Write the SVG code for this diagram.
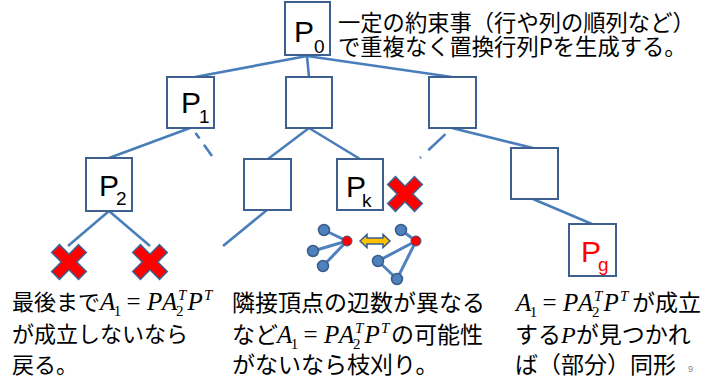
<svg xmlns="http://www.w3.org/2000/svg" width="707" height="379" viewBox="0 0 707 379">
<style>
.box{fill:#fff;stroke:#3d6091;stroke-width:2}
.edge{stroke:#4a7ebb;stroke-width:2.6;fill:none}
.lbl{font-family:"Liberation Sans",Arial,sans-serif;font-size:30px;fill:#000}
.sub{font-family:"Liberation Sans",Arial,sans-serif;font-size:19px;fill:#000}
.jp{font-family:"Noto Sans CJK JP",sans-serif;font-size:22px;fill:#000}
.j3{font-size:23px}
.m{font-family:"Liberation Serif","Times New Roman",serif;font-style:italic;font-size:25px}
.ms{font-family:"Liberation Serif","Times New Roman",serif;font-size:15px;font-style:normal}
.mi{font-family:"Liberation Serif","Times New Roman",serif;font-size:15px;font-style:italic}
.mu{font-style:normal}
.cross{fill:#ff0000;stroke:#3d6091;stroke-width:1.5;stroke-linejoin:miter}
.gn{fill:#4f81bd;stroke:#385d8a;stroke-width:1.5}
.gr{fill:#ff0000;stroke:#385d8a;stroke-width:1}
.ge{stroke:#4f81bd;stroke-width:3;fill:none}
</style>
<defs>
<polygon id="x" class="cross" points="-5.5,-19 5.5,-19 5.5,-5.5 19,-5.5 19,5.5 5.5,5.5 5.5,19 -5.5,19 -5.5,5.5 -19,5.5 -19,-5.5 -5.5,-5.5" transform="rotate(45)"/>
</defs>
<g id="connectors">
<line class="edge" x1="307" y1="56" x2="195" y2="77"/>
<line class="edge" x1="307" y1="56" x2="309" y2="77"/>
<line class="edge" x1="307" y1="56" x2="452" y2="77"/>
<line class="edge" x1="190" y1="128" x2="109" y2="158"/>
<line class="edge" x1="192" y1="128" x2="212" y2="156" stroke-dasharray="0 6 7 7.5 14"/>
<line class="edge" x1="309" y1="128" x2="268" y2="159"/>
<line class="edge" x1="309" y1="128" x2="360" y2="159"/>
<line class="edge" x1="452" y1="128" x2="420" y2="158" stroke-dasharray="0 9 23.5 10 2"/>
<line class="edge" x1="452" y1="128" x2="533" y2="148"/>
<line class="edge" x1="109" y1="211" x2="68" y2="246"/>
<line class="edge" x1="109" y1="211" x2="150" y2="246"/>
<line class="edge" x1="267" y1="210" x2="223" y2="246"/>
<line class="edge" x1="533" y1="199" x2="592" y2="224"/>
</g>
<g id="P0"><rect class="box" x="285" y="2" width="45" height="53"/><text class="lbl" x="294" y="42">P</text><text class="sub" x="314" y="53">0</text></g>
<g id="P1"><rect class="box" x="167" y="77" width="47" height="51"/><text class="lbl" x="181" y="113">P</text><text class="sub" x="199" y="123">1</text></g>
<g id="n2"><rect class="box" x="286" y="77" width="46" height="51"/></g>
<g id="n3"><rect class="box" x="429" y="77" width="47" height="51"/></g>
<g id="P2"><rect class="box" x="86" y="158" width="46" height="53"/><text class="lbl" x="99" y="196">P</text><text class="sub" x="116" y="205">2</text></g>
<g id="n5"><rect class="box" x="244" y="159" width="47" height="51"/></g>
<g id="Pk"><rect class="box" x="337" y="159" width="46" height="51"/><text class="lbl" x="346" y="197">P</text><text class="sub" x="362" y="207">k</text></g>
<g id="n7"><rect class="box" x="511" y="148" width="47" height="51"/></g>
<g id="Pg"><rect class="box" x="569" y="224" width="47" height="52"/><text class="lbl" x="581" y="262" style="fill:#ff0000">P</text><text class="sub" x="598" y="271" style="fill:#ff0000">g</text></g>
<g id="crosses">
<use href="#x" x="69" y="262"/>
<use href="#x" x="150" y="262"/>
<use href="#x" x="405" y="194"/>
</g>
<g id="graph-icon">
<line class="ge" x1="324" y1="230" x2="347" y2="241"/>
<line class="ge" x1="313" y1="251" x2="347" y2="241"/>
<line class="ge" x1="323" y1="266" x2="347" y2="241"/>
<circle class="gn" cx="324" cy="230" r="5.5"/>
<circle class="gn" cx="313" cy="251" r="5.5"/>
<circle class="gn" cx="323" cy="266" r="5.5"/>
<circle class="gr" cx="347" cy="241" r="5"/>
<polygon points="360,241 367,234.5 367,238 383,238 383,234.5 390,241 383,247.5 383,244 367,244 367,247.5" fill="#ffc000" stroke="#385d8a" stroke-width="1.5"/>
<line class="ge" x1="401" y1="230" x2="416" y2="241"/>
<line class="ge" x1="378" y1="261" x2="416" y2="241"/>
<line class="ge" x1="397" y1="279" x2="416" y2="241"/>
<line class="ge" x1="378" y1="261" x2="397" y2="279"/>
<circle class="gn" cx="401" cy="230" r="5.5"/>
<circle class="gn" cx="378" cy="261" r="5.5"/>
<circle class="gn" cx="397" cy="279" r="5.5"/>
<circle class="gr" cx="416" cy="241" r="5"/>
</g>
<g id="texts">
<text class="jp" x="338" y="31" style="font-size:22.3px">一定の約束事（行や列の順列など）</text>
<text class="jp" x="338" y="55" style="font-size:22.3px">で重複なく置換行列Pを生成する。</text>

<text class="jp" x="12" y="310">最後まで</text>
<text class="m" x="100" y="310">A<tspan class="ms" x="113.8" y="316">1</tspan><tspan class="mu" x="126.5" y="310">=</tspan><tspan x="147" y="310">P</tspan><tspan x="162" y="310">A</tspan><tspan class="mi" x="178" y="300">T</tspan><tspan class="ms" x="176" y="316">2</tspan><tspan x="187.5" y="310">P</tspan><tspan class="mi" x="204" y="300">T</tspan></text>
<text class="jp" x="12" y="342">が成立しないなら</text>
<text class="jp" x="12" y="373">戻る。</text>

<text class="jp j3" x="232" y="311">隣接頂点の辺数が異なる</text>
<text class="jp j3" x="232" y="343">など</text>
<text class="m" x="277" y="343">A<tspan class="ms" x="290.8" y="349">1</tspan><tspan class="mu" x="303.5" y="343">=</tspan><tspan x="324" y="343">P</tspan><tspan x="339" y="343">A</tspan><tspan class="mi" x="355" y="333">T</tspan><tspan class="ms" x="353" y="349">2</tspan><tspan x="364.5" y="343">P</tspan><tspan class="mi" x="381" y="333">T</tspan></text>
<text class="jp j3" x="391" y="343">の可能性</text>
<text class="jp j3" x="232" y="373">がないなら枝刈り。</text>

<text class="m" x="516" y="311">A<tspan class="ms" x="529.8" y="317">1</tspan><tspan class="mu" x="542.5" y="311">=</tspan><tspan x="563" y="311">P</tspan><tspan x="578" y="311">A</tspan><tspan class="mi" x="594" y="301">T</tspan><tspan class="ms" x="592" y="317">2</tspan><tspan x="603.5" y="311">P</tspan><tspan class="mi" x="620" y="301">T</tspan></text>
<text class="jp j3" x="632" y="311">が成立</text>
<text class="jp j3" x="515" y="343">する<tspan style="font-family:'Liberation Serif',serif;font-style:italic;font-size:24px">P</tspan>が見つかれ</text>
<text class="jp j3" x="515" y="373">ば（部分）同形</text>
<text x="688" y="372" style="font-family:'Liberation Sans',Arial,sans-serif;font-size:9px;fill:#888">9</text>
</g>
</svg>
